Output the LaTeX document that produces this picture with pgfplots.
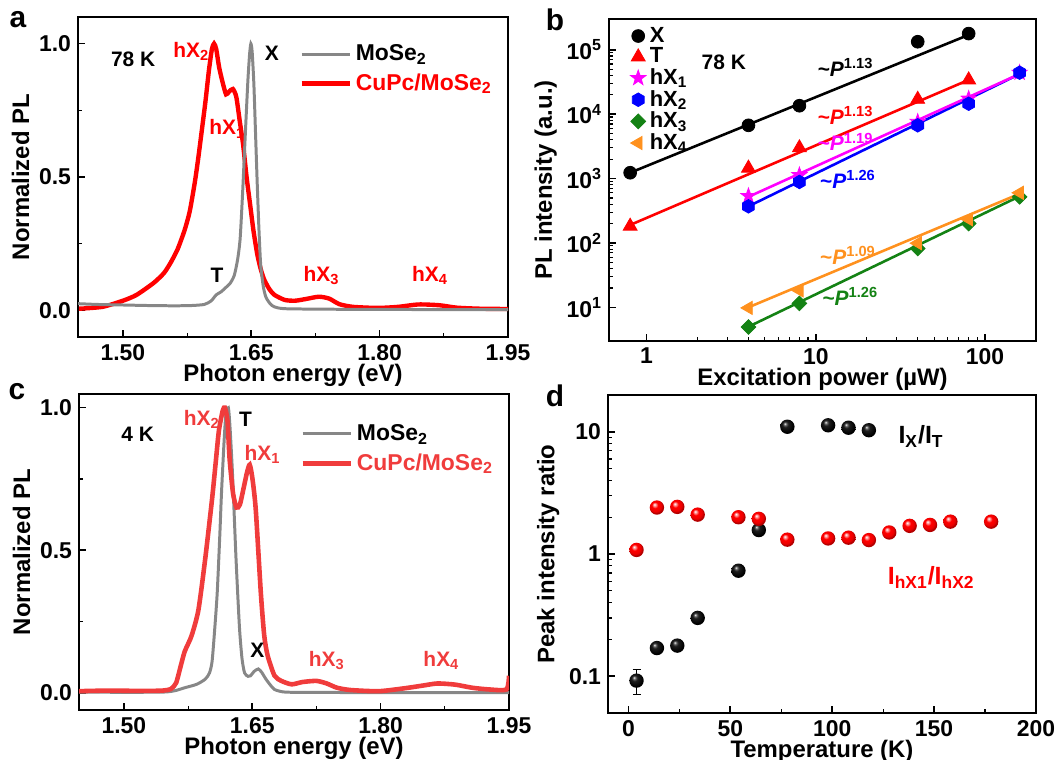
\documentclass[border=0pt]{standalone}
\usepackage{fontspec}
\setmainfont{Liberation Sans}
\usepackage{pgfplots}
\pgfplotsset{compat=1.18}

\definecolor{grl}{RGB}{135,135,135}
\definecolor{redA}{RGB}{255,0,0}
\definecolor{redC}{RGB}{240,60,60}
\definecolor{mag}{RGB}{255,0,255}
\definecolor{blu}{RGB}{0,0,255}
\definecolor{grn}{RGB}{20,130,20}
\definecolor{org}{RGB}{255,145,30}

\pgfdeclareplotmark{hexagon*}{%
 \pgfpathmoveto{\pgfpointpolar{90}{\pgfplotmarksize}}%
 \pgfpathlineto{\pgfpointpolar{150}{\pgfplotmarksize}}%
 \pgfpathlineto{\pgfpointpolar{210}{\pgfplotmarksize}}%
 \pgfpathlineto{\pgfpointpolar{270}{\pgfplotmarksize}}%
 \pgfpathlineto{\pgfpointpolar{330}{\pgfplotmarksize}}%
 \pgfpathlineto{\pgfpointpolar{30}{\pgfplotmarksize}}%
 \pgfpathclose\pgfusepathqfillstroke}
\pgfdeclareplotmark{fstar}{%
 \pgfpathmoveto{\pgfpointpolar{90}{1.25\pgfplotmarksize}}%
 \pgfpathlineto{\pgfpointpolar{126}{0.5\pgfplotmarksize}}%
 \pgfpathlineto{\pgfpointpolar{162}{1.25\pgfplotmarksize}}%
 \pgfpathlineto{\pgfpointpolar{198}{0.5\pgfplotmarksize}}%
 \pgfpathlineto{\pgfpointpolar{234}{1.25\pgfplotmarksize}}%
 \pgfpathlineto{\pgfpointpolar{270}{0.5\pgfplotmarksize}}%
 \pgfpathlineto{\pgfpointpolar{306}{1.25\pgfplotmarksize}}%
 \pgfpathlineto{\pgfpointpolar{342}{0.5\pgfplotmarksize}}%
 \pgfpathlineto{\pgfpointpolar{18}{1.25\pgfplotmarksize}}%
 \pgfpathlineto{\pgfpointpolar{54}{0.5\pgfplotmarksize}}%
 \pgfpathclose\pgfusepathqfillstroke}

\pgfdeclareradialshading{redball}{\pgfqpoint{-9bp}{11bp}}{%
 color(0bp)=(white); color(5bp)=(red!45!white); color(11bp)=(red);
 color(21bp)=(red!92!black); color(25bp)=(red!70!black); color(50bp)=(red!70!black)}
\pgfdeclareradialshading{blackball}{\pgfqpoint{-9bp}{11bp}}{%
 color(0bp)=(white); color(4bp)=(black!55); color(10bp)=(black!88); color(25bp)=(black); color(50bp)=(black)}
\pgfdeclareplotmark{rball}{%
 \pgfpathcircle{\pgfpointorigin}{\pgfplotmarksize}%
 \pgfshadepath{redball}{0}\pgfusepath{discard}}
\pgfdeclareplotmark{kball}{%
 \pgfpathcircle{\pgfpointorigin}{\pgfplotmarksize}%
 \pgfshadepath{blackball}{0}\pgfusepath{discard}}

\pgfplotsset{
 myaxis/.style={
   scale only axis,
   axis line style={line width=1.3pt},
   tick align=inside,
   xtick pos=left, ytick pos=left,
   major tick length=3.5bp, minor tick length=2bp,
   every tick/.style={black, line width=0.8pt},
   every minor tick/.style={black, line width=0.6pt},
   tick label style={font=\bfseries\fontsize{11.5}{13}\selectfont},
   label style={font=\bfseries\fontsize{12}{14}\selectfont},
   xlabel style={yshift=5bp}, ylabel style={yshift=-2bp},
   /pgf/number format/assume math mode=true,
   legend cell align=left,
 },
 linelegend/.style={legend image code/.code={\draw[##1] (0bp,0bp) -- (24bp,0bp);}},
}
\newcommand{\ann}{\bfseries\fontsize{10.5}{12}\selectfont}

\begin{document}
\begin{tikzpicture}
\useasboundingbox (0,0) rectangle (528.5bp,380bp);

% ---------------- panel a ----------------
\begin{axis}[myaxis, at={(39bp,211.5bp)}, anchor=south west, width=215bp, height=160bp,
  xmin=1.4475, xmax=1.95, ymin=-0.1, ymax=1.1,
  xtick={1.5,1.65,1.8,1.95}, xticklabels={1.50,1.65,1.80,1.95}, minor x tick num=1,
  ytick={0,0.5,1}, yticklabels={0.0,0.5,1.0}, minor y tick num=1,
  xlabel={Photon energy (eV)}, ylabel={Normalized PL},
  legend style={at={(rel axis cs:0.5,0.94)}, anchor=north west, draw=none, fill=none,
    font=\bfseries\fontsize{11.5}{13}\selectfont, row sep=1bp}, linelegend]
\addlegendimage{grl, line width=1.5pt}\addlegendentry{MoSe\textsubscript{2}}
\addlegendimage{redA, line width=2.2pt}\addlegendentry{\textcolor{redA}{CuPc/MoSe\textsubscript{2}}}
\addplot[redA, line width=2.2pt, smooth, tension=0.4, forget plot] coordinates {
(1.4485,0.006)(1.476,0.013)(1.50,0.036)(1.516,0.058)(1.536,0.103)(1.548,0.14)(1.556,0.18)
(1.564,0.23)(1.572,0.30)(1.578,0.37)(1.584,0.48)(1.588,0.57)(1.592,0.67)(1.5965,0.785)
(1.6005,0.90)(1.604,0.98)(1.6065,1.00)(1.609,0.98)(1.6125,0.91)(1.6165,0.855)(1.6205,0.81)
(1.624,0.82)(1.6285,0.83)(1.6325,0.80)(1.6365,0.71)(1.6405,0.62)(1.6445,0.50)(1.6485,0.40)
(1.6525,0.30)(1.657,0.21)(1.661,0.155)(1.665,0.116)(1.671,0.08)(1.677,0.058)(1.689,0.039)
(1.701,0.036)(1.713,0.042)(1.729,0.051)(1.741,0.044)(1.753,0.023)(1.769,0.013)(1.7975,0.009)
(1.8215,0.013)(1.8455,0.022)(1.870,0.019)(1.890,0.010)(1.918,0.006)(1.95,0.005)};
\node[text=redA, font=\ann] at (axis cs:1.622,0.68) {hX\textsubscript{1}};
\addplot[grl, line width=1.5pt, smooth, tension=0.4, forget plot] coordinates {
(1.4475,0.025)(1.47,0.022)(1.50,0.020)(1.53,0.018)(1.56,0.017)(1.58,0.018)(1.595,0.022)
(1.603,0.035)(1.609,0.058)(1.615,0.07)(1.620,0.085)(1.625,0.10)(1.630,0.13)(1.634,0.19)
(1.637,0.27)(1.640,0.45)(1.643,0.66)(1.646,0.86)(1.648,0.96)(1.6495,1.00)(1.651,0.97)
(1.653,0.85)(1.655,0.66)(1.657,0.47)(1.659,0.30)(1.661,0.17)(1.664,0.09)(1.667,0.05)
(1.672,0.025)(1.677,0.013)(1.69,0.006)(1.75,0.004)(1.85,0.003)(1.95,0.003)};
\node[font=\ann] at (axis cs:1.512,0.94) {78 K};
\node[text=redA, font=\ann] at (axis cs:1.580,0.97) {hX\textsubscript{2}};
\node[font=\ann] at (axis cs:1.674,0.965) {X};
\node[font=\ann] at (axis cs:1.610,0.13) {T};
\node[text=redA, font=\ann] at (axis cs:1.732,0.13) {hX\textsubscript{3}};
\node[text=redA, font=\ann] at (axis cs:1.859,0.13) {hX\textsubscript{4}};
\end{axis}
\node[font=\bfseries\fontsize{15}{16}\selectfont] at (9bp,370bp) {a};

% ---------------- panel b ----------------
\begin{axis}[myaxis, at={(304.5bp,209.5bp)}, anchor=south west, width=213.5bp, height=161bp,
  xmode=log, ymode=log, xmin=0.6, xmax=200, ymin=3, ymax=3e5,
  xtick={1,10,100}, xticklabels={1,10,100},
  ytick={10,100,1000,10000,100000},
  yticklabels={10\textsuperscript{1},10\textsuperscript{2},10\textsuperscript{3},10\textsuperscript{4},10\textsuperscript{5}},
  xlabel={Excitation power (µW)}, ylabel={PL intensity (a.u.)},
  legend style={at={(rel axis cs:0.045,0.995)}, anchor=north west, draw=none, fill=none,
    font=\bfseries\fontsize{11}{12}\selectfont, row sep=-2.6bp, inner sep=1bp}]
% fit lines
\addplot[black, line width=1.3pt, forget plot] coordinates {(0.8,1230)(80,1.7e5)};
\addplot[redA, line width=1.3pt, forget plot] coordinates {(0.8,190)(80,3.4e4)};
\addplot[blu, line width=1.3pt, forget plot] coordinates {(4,370)(160,4.2e4)};
\addplot[mag, line width=1.3pt, forget plot] coordinates {(4,520)(160,4.2e4)};
\addplot[grn, line width=1.3pt, forget plot] coordinates {(4,5)(160,530)};
\addplot[org, line width=1.3pt, forget plot] coordinates {(4,10)(160,580)};
% markers
\addplot[only marks, mark=*, mark size=3.2bp, black] coordinates {(0.8,1230)(4,6700)(8,13500)(40,1.33e5)(80,1.78e5)};
\addlegendentry{X}
\addplot[only marks, mark=triangle*, mark size=4bp, redA] coordinates {(0.8,182)(4,1450)(8,3000)(40,1.7e4)(80,3.4e4)};
\addlegendentry{T}
\addplot[only marks, mark=fstar, mark size=3.2bp, mag] coordinates {(4,535)(8,1130)(40,7600)(80,1.74e4)(160,4.4e4)};
\addlegendentry{hX\textsubscript{1}}
\addplot[only marks, mark=hexagon*, mark size=3.4bp, blu] coordinates {(4,370)(8,885)(40,6700)(80,1.45e4)(160,4.4e4)};
\addlegendentry{hX\textsubscript{2}}
\addplot[only marks, mark=square*, mark size=2.6bp, mark options={rotate=45}, grn] coordinates {(4,4.95)(8,11.5)(40,82)(80,200)(160,520)};
\addlegendentry{hX\textsubscript{3}}
\addplot[only marks, mark=triangle*, mark size=3.8bp, mark options={rotate=90}, org] coordinates {(4,9.8)(8,18.3)(40,99)(80,233)(160,600)};
\addlegendentry{hX\textsubscript{4}}
\node[font=\ann] at (axis cs:2.86,6.3e4) {78 K};
\node[font=\ann] at (axis cs:15,5.3e4) {\textasciitilde\textit{P}\textsuperscript{1.13}};
\node[font=\ann, text=redA] at (axis cs:15,9.4e3) {\textasciitilde\textit{P}\textsuperscript{1.13}};
\node[font=\ann, text=mag] at (axis cs:15,3.7e3) {\textasciitilde\textit{P}\textsuperscript{1.19}};
\node[font=\ann, text=blu] at (axis cs:15.5,960) {\textasciitilde\textit{P}\textsuperscript{1.26}};
\node[font=\ann, text=org] at (axis cs:15.5,65) {\textasciitilde\textit{P}\textsuperscript{1.09}};
\node[font=\ann, text=grn] at (axis cs:16,15) {\textasciitilde\textit{P}\textsuperscript{1.26}};
\end{axis}
\node[font=\bfseries\fontsize{15}{16}\selectfont] at (277.5bp,370bp) {b};

% ---------------- panel c ----------------
\begin{axis}[myaxis, at={(39.5bp,25bp)}, anchor=south west, width=215bp, height=158bp,
  xmin=1.4475, xmax=1.95, ymin=-0.06, ymax=1.048,
  xtick={1.5,1.65,1.8,1.95}, xticklabels={1.50,1.65,1.80,1.95}, minor x tick num=1,
  ytick={0,0.5,1}, yticklabels={0.0,0.5,1.0}, minor y tick num=1,
  xlabel={Photon energy (eV)}, ylabel={Normalized PL},
  legend style={at={(rel axis cs:0.5,0.93)}, anchor=north west, draw=none, fill=none,
    font=\bfseries\fontsize{11.5}{13}\selectfont, row sep=1bp}, linelegend]
\addplot[grl, line width=1.5pt, smooth, tension=0.4] coordinates {
(1.4475,0.003)(1.50,0.002)(1.547,0.003)(1.56,0.008)(1.571,0.018)(1.585,0.030)(1.595,0.048)
(1.600,0.07)(1.603,0.11)(1.606,0.22)(1.609,0.35)(1.612,0.55)(1.614,0.70)(1.617,0.88)
(1.619,0.97)(1.622,1.00)(1.624,0.93)(1.627,0.76)(1.631,0.47)(1.635,0.23)(1.638,0.12)
(1.641,0.07)(1.645,0.058)(1.648,0.060)(1.652,0.075)(1.657,0.084)(1.661,0.072)(1.666,0.048)
(1.671,0.028)(1.676,0.012)(1.685,0.004)(1.70,0.002)(1.80,0.001)(1.95,0.001)};
\addlegendentry{MoSe\textsubscript{2}}
\addplot[redC, line width=2.3pt, smooth, tension=0.4] coordinates {
(1.4475,0.006)(1.48,0.008)(1.52,0.007)(1.545,0.008)(1.555,0.014)(1.561,0.035)(1.566,0.09)
(1.571,0.145)(1.579,0.20)(1.587,0.29)(1.595,0.47)(1.603,0.68)(1.607,0.80)(1.611,0.92)
(1.6155,0.99)(1.618,1.00)(1.621,0.955)(1.6235,0.82)(1.6275,0.70)(1.6315,0.65)(1.6355,0.66)
(1.640,0.72)(1.644,0.775)(1.647,0.80)(1.650,0.755)(1.654,0.645)(1.660,0.35)(1.664,0.20)
(1.668,0.13)(1.676,0.06)(1.684,0.042)(1.696,0.030)(1.7085,0.038)(1.725,0.042)(1.737,0.033)
(1.749,0.018)(1.765,0.010)(1.798,0.006)(1.830,0.017)(1.850,0.026)(1.8665,0.033)(1.887,0.029)
(1.907,0.018)(1.927,0.012)(1.947,0.012)(1.95,0.06)};
\addlegendentry{\textcolor{redC}{CuPc/MoSe\textsubscript{2}}}
\node[font=\ann] at (axis cs:1.516,0.907) {4 K};
\node[text=redC, font=\ann] at (axis cs:1.591,0.96) {hX\textsubscript{2}};
\node[font=\ann] at (axis cs:1.642,0.96) {T};
\node[text=redC, font=\ann] at (axis cs:1.662,0.835) {hX\textsubscript{1}};
\node[font=\ann] at (axis cs:1.656,0.15) {X};
\node[text=redC, font=\ann] at (axis cs:1.737,0.113) {hX\textsubscript{3}};
\node[text=redC, font=\ann] at (axis cs:1.871,0.113) {hX\textsubscript{4}};
\end{axis}
\node[font=\bfseries\fontsize{15}{16}\selectfont] at (8.5bp,184bp) {c};

% ---------------- panel d ----------------
\begin{axis}[myaxis, at={(304bp,23.5bp)}, anchor=south west, width=214bp, height=159bp,
  ymode=log, xmin=-10, xmax=200, ymin=0.05, ymax=20,
  xtick={0,50,100,150,200}, minor x tick num=1,
  ytick={0.1,1,10}, yticklabels={0.1,1,10},
  xlabel={Temperature (K)}, ylabel={Peak intensity ratio}]
\addplot[black, line width=0.5pt, mark=none, forget plot,
  error bars/.cd, y dir=both, y explicit,
  error bar style={line width=0.5pt},
  error mark options={rotate=90, mark size=2bp, line width=0.5pt}]
  coordinates {(4,0.092) += (0,0.022) -= (0,0.021)};
\addplot[only marks, mark=kball, mark size=3.6bp] coordinates {
(4,0.092)(14,0.17)(24,0.178)(34,0.30)(54,0.73)(64,1.57)(78,11.0)(98,11.3)(108,10.8)(118,10.3)};
\addplot[only marks, mark=rball, mark size=3.6bp] coordinates {
(4,1.08)(14,2.40)(24,2.43)(34,2.10)(54,2.0)(64,1.94)(78,1.31)(98,1.34)(108,1.36)(118,1.30)
(128,1.50)(138,1.70)(148,1.73)(158,1.84)(178,1.84)};
\node[font=\bfseries\fontsize{12.5}{14}\selectfont] at (axis cs:143.6,9.2) {I\textsubscript{X}/I\textsubscript{T}};
\node[font=\bfseries\fontsize{12.5}{14}\selectfont, text=redA] at (axis cs:148.6,0.64) {I\textsubscript{hX1}/I\textsubscript{hX2}};
\end{axis}
\node[font=\bfseries\fontsize{15}{16}\selectfont] at (277.5bp,182bp) {d};
\end{tikzpicture}
\end{document}
